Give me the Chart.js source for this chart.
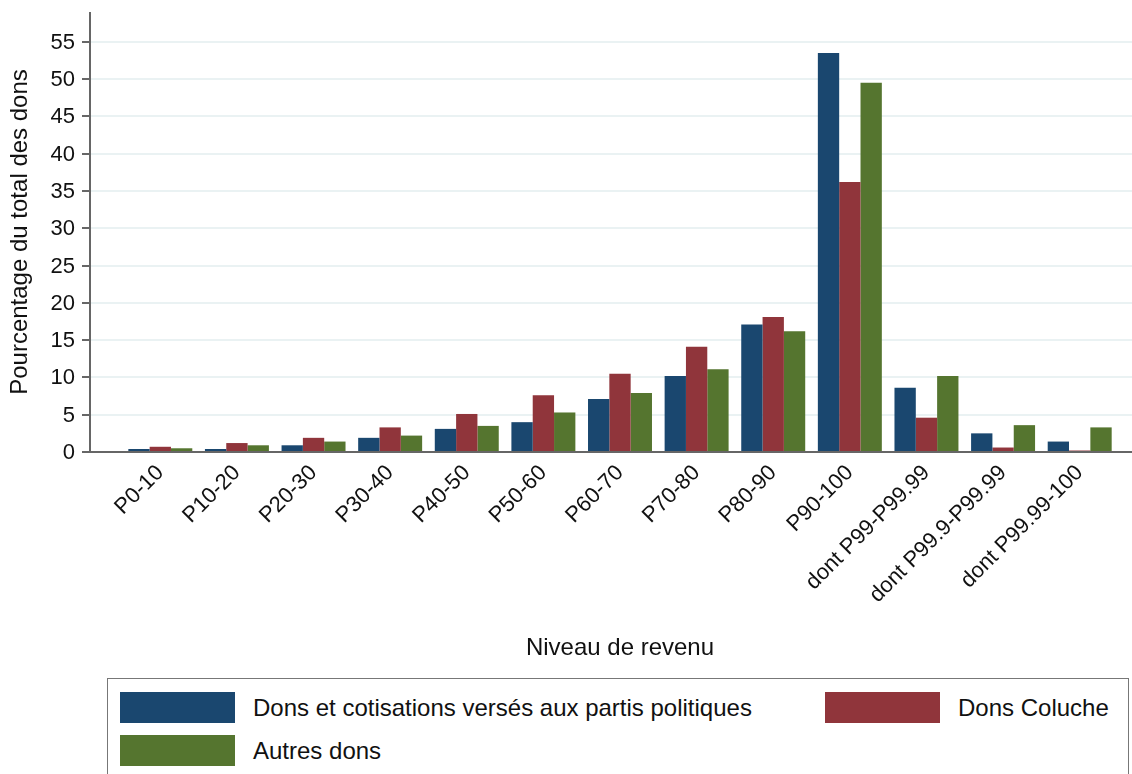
<!DOCTYPE html>
<html>
<head>
<meta charset="utf-8">
<script src="https://cdn.jsdelivr.net/npm/chart.js@4.4.1/dist/chart.umd.min.js"></script>
<style>
  html, body { margin: 0; padding: 0; background: #fff; }
  body { width: 1132px; height: 774px; overflow: hidden; position: relative; font-family: "Liberation Sans", Arial, sans-serif; }
  #wrap { position: absolute; left: 0; top: 0; width: 1132px; height: 672px; }
  #legend { position: absolute; left: 107px; top: 678px; width: 1022px; height: 110px; border: 1px solid #777; box-sizing: border-box; }
  .item { position: absolute; display: flex; align-items: center; font-size: 24px; color: #111; }
  .sw { width: 115px; height: 31px; margin-right: 18px; }
</style>
</head>
<body>
<div id="wrap"><canvas id="chart"></canvas></div>
<div id="legend"></div>
<script>
// ── Data ──────────────────────────────────────────────
const categories = ['P0-10', 'P10-20', 'P20-30', 'P30-40', 'P40-50', 'P50-60', 'P60-70', 'P70-80', 'P80-90', 'P90-100', 'dont P99-P99.99', 'dont P99.9-P99.99', 'dont P99.99-100'];
const partis  = [0.4, 0.4, 0.9, 1.9, 3.1, 4.0, 7.1, 10.2, 17.1, 53.5, 8.6, 2.5, 1.4];
const coluche = [0.7, 1.2, 1.9, 3.3, 5.1, 7.6, 10.5, 14.1, 18.1, 36.2, 4.6, 0.6, 0.2];
const autres  = [0.5, 0.9, 1.4, 2.2, 3.5, 5.3, 7.9, 11.1, 16.2, 49.5, 10.2, 3.6, 3.3];
const yTicks = [0, 5, 10, 15, 20, 25, 30, 35, 40, 45, 50, 55];
const seriesNames = ['Dons et cotisations versés aux partis politiques', 'Dons Coluche', 'Autres dons'];
const colors = ['#1a476f', '#90353b', '#55752f'];

const FONT = '"Liberation Sans", Arial, sans-serif';
const AXIS_X = 90;

// ── Legend (HTML) ──────────────────────────────────────
const legendPos = [[12, 13], [717, 13], [12, 56]];
const legend = document.getElementById('legend');
seriesNames.forEach((name, i) => {
    const d = document.createElement('div');
    d.className = 'item';
    d.style.left = legendPos[i][0] + 'px';
    d.style.top = legendPos[i][1] + 'px';
    d.innerHTML = `<span class="sw" style="background:${colors[i]}"></span><span>${name}</span>`;
    legend.appendChild(d);
});

// ── Axis, ticks and grid drawn from the y scale ────────
const axesPlugin = {
    id: 'stataAxes',
    beforeDatasetsDraw(chart) {
        const { ctx, scales } = chart;
        const y = scales.y;
        ctx.save();
        ctx.strokeStyle = '#eaf2f3';
        ctx.lineWidth = 2;
        yTicks.forEach(v => {
            if (v === 0) return;
            const py = Math.round(y.getPixelForValue(v));
            ctx.beginPath(); ctx.moveTo(AXIS_X, py); ctx.lineTo(chart.width, py); ctx.stroke();
        });
        ctx.restore();
    },
    afterDatasetsDraw(chart) {
        const { ctx, chartArea, scales } = chart;
        const y = scales.y;
        const y0 = y.getPixelForValue(0);
        ctx.save();
        ctx.strokeStyle = '#666';
        ctx.lineWidth = 2;
        ctx.beginPath(); ctx.moveTo(AXIS_X, chartArea.top); ctx.lineTo(AXIS_X, y0 + 1); ctx.stroke();
        ctx.beginPath(); ctx.moveTo(AXIS_X - 1, y0); ctx.lineTo(chart.width, y0); ctx.stroke();
        ctx.fillStyle = '#111';
        ctx.font = '22px ' + FONT;
        ctx.textAlign = 'right';
        ctx.textBaseline = 'middle';
        yTicks.forEach(v => {
            const py = Math.round(y.getPixelForValue(v));
            ctx.beginPath(); ctx.moveTo(AXIS_X - 8, py); ctx.lineTo(AXIS_X, py); ctx.stroke();
            ctx.fillText(String(v), 75, py + 1);
        });
        ctx.restore();
    }
};

const ctx = document.getElementById('chart').getContext('2d');
new Chart(ctx, {
    type: 'bar',
    data: {
        labels: categories,
        datasets: [partis, coluche, autres].map((data, i) => ({
            label: seriesNames[i],
            data,
            backgroundColor: colors[i],
            borderWidth: 0,
            categoryPercentage: 0.835,
            barPercentage: 1
        }))
    },
    options: {
        responsive: true,
        maintainAspectRatio: false,
        animation: false,
        layout: { padding: { top: 12, right: 14, left: 0, bottom: 0 } },
        plugins: { legend: { display: false }, tooltip: { enabled: false } },
        scales: {
            x: {
                grid: { display: false },
                border: { display: false },
                ticks: { color: '#111', font: { family: FONT, size: 22 }, minRotation: 45, maxRotation: 45, autoSkip: false, padding: 0 },
                title: { display: true, text: 'Niveau de revenu', color: '#111', font: { family: FONT, size: 24 }, padding: { top: 0, bottom: 9 } },
                afterFit(scale) { scale.height = 220; }
            },
            y: {
                min: 0,
                max: 59,
                afterBuildTicks(scale) { scale.ticks = yTicks.map(v => ({ value: v })); },
                grid: { display: false },
                border: { display: false },
                ticks: { display: false },
                title: { display: true, text: 'Pourcentage du total des dons', color: '#111', font: { family: FONT, size: 24 }, padding: { top: 6, bottom: 0 } },
                afterFit(scale) { scale.width = 122; }
            }
        }
    },
    plugins: [axesPlugin]
});
</script>
</body>
</html>
